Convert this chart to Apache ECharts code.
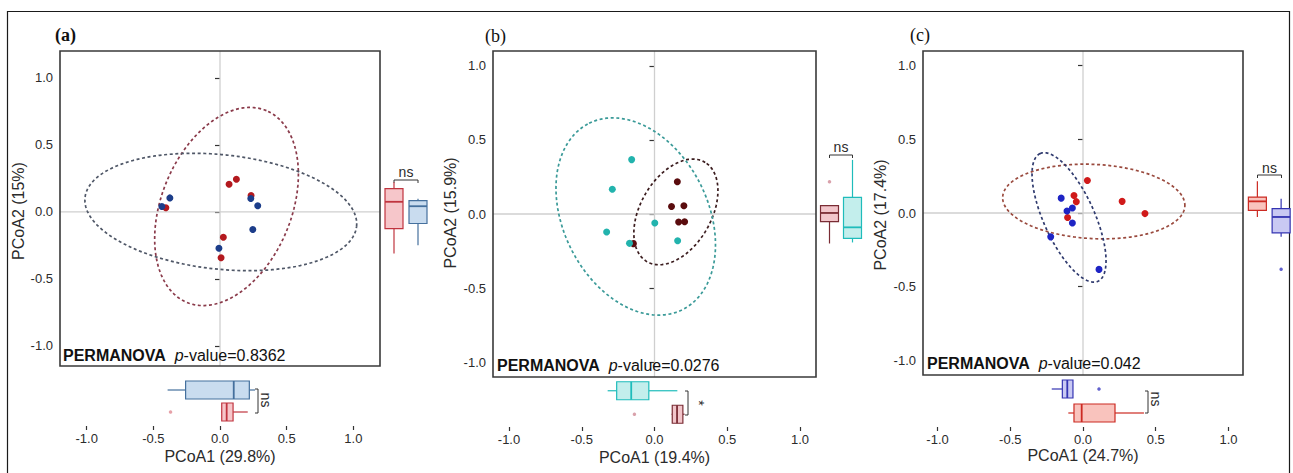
<!DOCTYPE html>
<html><head><meta charset="utf-8">
<script src="https://cdn.jsdelivr.net/npm/echarts@6/dist/echarts.min.js"></script>
<style>html,body{margin:0;padding:0;background:#fff}#c{width:1293px;height:473px}</style>
</head><body><div id="c"></div>
<script>
// ================= DATA =================
const panelLabels = ['(a)', '(b)', '(c)'];
const xTitles = ['PCoA1 (29.8%)', 'PCoA1 (19.4%)', 'PCoA1 (24.7%)'];
const yTitles = ['PCoA2 (15%)', 'PCoA2 (15.9%)', 'PCoA2 (17.4%)'];
const pValues = ['0.8362', '0.0276', '0.042'];
const tickValues = [-1, -0.5, 0, 0.5, 1];
const tickLabels = ['-1.0', '-0.5', '0.0', '0.5', '1.0'];
const sigRight = ['ns', 'ns', 'ns'];
const sigBottom = ['ns', '*', 'ns'];
const groups = ['G1', 'G2'];

// panel (a): points [PCoA1, PCoA2]
const aPts1 = [[0.068, 0.206], [0.123, 0.243], [0.233, 0.122], [-0.406, 0.030], [0.025, -0.190], [0.008, -0.343]];
const aPts2 = [[-0.376, 0.104], [-0.436, 0.040], [0.231, 0.099], [0.283, 0.045], [0.246, -0.132], [-0.008, -0.272]];
// ellipses: [centerX, centerY, semiMajor, semiMinor, angleDeg]
const aEll1 = [0.049, 0.040, 0.775, 0.486, 67.3];
const aEll2 = [0.006, -0.001, 1.024, 0.427, -6.0];
// box stats: [low whisker, Q1, median, Q3, high whisker]
const aBoxY1 = [-0.310, -0.125, 0.075, 0.174, 0.220];
const aBoxY2 = [-0.250, -0.087, 0.042, 0.084, 0.097];
const aBoxX1 = [0.008, 0.013, 0.050, 0.098, 0.208];
const aBoxX2 = [-0.393, -0.258, 0.103, 0.220, 0.263];
const aOutY1 = [], aOutY2 = [], aOutX1 = [-0.371], aOutX2 = [];

// panel (b)
const bPts1 = [[0.157, 0.218], [0.117, 0.051], [0.202, 0.056], [0.166, -0.054], [0.207, -0.052], [-0.145, -0.200]];
const bPts2 = [[-0.157, 0.367], [-0.290, 0.167], [0.002, -0.061], [-0.329, -0.122], [-0.172, -0.198], [0.159, -0.180]];
const bEll1 = [0.147, 0.014, 0.390, 0.242, 58.9];
const bEll2 = [-0.129, -0.017, 0.706, 0.495, 117.9];
const bBoxY1 = [-0.199, -0.052, 0.007, 0.056, 0.060];
const bBoxY2 = [-0.192, -0.165, -0.090, 0.112, 0.365];
const bBoxX1 = [0.117, 0.122, 0.155, 0.195, 0.207];
const bBoxX2 = [-0.322, -0.260, -0.160, -0.039, 0.157];
const bOutY1 = [0.218], bOutY2 = [], bOutX1 = [-0.138], bOutX2 = [];

// panel (c)
const cPts1 = [[0.030, 0.221], [-0.062, 0.119], [-0.046, 0.077], [-0.106, -0.031], [0.269, 0.079], [0.426, -0.004]];
const cPts2 = [[-0.150, 0.101], [-0.073, 0.034], [-0.110, 0.013], [-0.073, -0.068], [-0.222, -0.162], [0.110, -0.383]];
const cEll1 = [0.074, 0.078, 0.627, 0.252, -2.8];
const cEll2 = [-0.096, -0.030, 0.477, 0.174, 114.7];
const cBoxY1 = [-0.027, 0.018, 0.079, 0.108, 0.216];
const cBoxY2 = [-0.162, -0.135, -0.027, 0.030, 0.097];
const cBoxX1 = [-0.101, -0.062, -0.009, 0.220, 0.419];
const cBoxX2 = [-0.215, -0.142, -0.108, -0.069, -0.069];
const cOutY1 = [], cOutY2 = [-0.382], cOutX1 = [], cOutX2 = [0.110];

// ================= STYLE / LAYOUT =================
const FONT = "'Liberation Sans', Arial, Helvetica, sans-serif";
const SERIF = "'Liberation Serif', 'Times New Roman', serif";
const TXT = '#2b2b2b';

const panels = [
  { pts: [aPts1, aPts2], ell: [aEll1, aEll2], boxY: [aBoxY1, aBoxY2], boxX: [aBoxX1, aBoxX2],
    outY: [aOutY1, aOutY2], outX: [aOutX1, aOutX2],
    col: { pt: ['#b3191e', '#1c3d8a'], ell: ['#8a3a4a', '#4f5767'], fill: ['#f6c6ca', '#c9dcef'],
           stroke: ['#c0343f', '#45709d'], out: ['#e08a92', '#6f8fbf'] },
    L: { main: { left: 60, top: 51, width: 320, height: 315 }, xr: [-1.2, 1.2], yr: [-1.15, 1.2],
         right: { left: 382, width: 48 }, bottom: { top: 379, height: 44 }, xOff: 3,
         letter: { x: 55, y: 35, bold: true }, yTitle: { x: 18, y: 211 }, xTitleY: 456,
         perm: { x: 63, y: 355 }, brR: { y: 180, ty: 172 }, brB: { x: 258, y1: 389, y2: 413, tx: 266, ty: 400 } } },
  { pts: [bPts1, bPts2], ell: [bEll1, bEll2], boxY: [bBoxY1, bBoxY2], boxX: [bBoxX1, bBoxX2],
    outY: [bOutY1, bOutY2], outX: [bOutX1, bOutX2],
    col: { pt: ['#5a0c0e', '#22b3ad'], ell: ['#3b1c1e', '#3a9a98'], fill: ['#f2c6cb', '#c3eeec'],
           stroke: ['#7a2c34', '#1fbcbb'], out: ['#d08a96', '#40c0c0'] },
    L: { main: { left: 493, top: 51, width: 323, height: 326 }, xr: [-1.11, 1.11], yr: [-1.1, 1.1],
         right: { left: 818, width: 46 }, bottom: { top: 379, height: 47 }, xOff: 1,
         letter: { x: 485, y: 35.5, bold: false }, yTitle: { x: 450, y: 213 }, xTitleY: 457.5,
         perm: { x: 497, y: 365 }, brR: { y: 155, ty: 147 }, brB: { x: 688, y1: 391, y2: 415, tx: 699, ty: 403 } } },
  { pts: [cPts1, cPts2], ell: [cEll1, cEll2], boxY: [cBoxY1, cBoxY2], boxX: [cBoxX1, cBoxX2],
    outY: [cOutY1, cOutY2], outX: [cOutX1, cOutX2],
    col: { pt: ['#d01a1a', '#1e24c4'], ell: ['#9a4a3e', '#2f3a6e'], fill: ['#f9c3bd', '#c9c9f3'],
           stroke: ['#cc2a22', '#3434b2'], out: ['#e07a70', '#3a3ac0'] },
    L: { main: { left: 923, top: 51, width: 320, height: 324 }, xr: [-1.1, 1.1], yr: [-1.1, 1.1],
         right: { left: 1245.5, width: 48 }, bottom: { top: 377, height: 48 }, xOff: 2,
         letter: { x: 910, y: 35, bold: false }, yTitle: { x: 880, y: 215 }, xTitleY: 455.5,
         perm: { x: 927, y: 363.5 }, brR: { y: 175, ty: 168 }, brB: { x: 1148, y1: 391, y2: 413, tx: 1156, ty: 399 } } }
];

const BOXW = 18;

function tickLabelFmt(v) {
  const i = tickValues.findIndex(t => Math.abs(t - v) < 1e-9);
  return i >= 0 ? tickLabels[i] : '';
}

function zeroLineRender(xr, yr) {
  return function (params, api) {
    const a = api.coord([xr[0], 0]), b = api.coord([xr[1], 0]);
    const c = api.coord([0, yr[0]]), d = api.coord([0, yr[1]]);
    const st = { stroke: '#cfcfcf', lineWidth: 1.3 };
    return { type: 'group', children: [
      { type: 'line', shape: { x1: a[0], y1: a[1], x2: b[0], y2: b[1] }, style: st },
      { type: 'line', shape: { x1: c[0], y1: c[1], x2: d[0], y2: d[1] }, style: st }
    ] };
  };
}

function ellipseRender(colors) {
  return function (params, api) {
    const cx = api.value(0), cy = api.value(1), a = api.value(2), b = api.value(3);
    const ang = api.value(4) * Math.PI / 180;
    const pts = [];
    const N = 160;
    for (let i = 0; i <= N; i++) {
      const t = i / N * 2 * Math.PI;
      const ex = a * Math.cos(t), ey = b * Math.sin(t);
      pts.push(api.coord([cx + ex * Math.cos(ang) - ey * Math.sin(ang),
                          cy + ex * Math.sin(ang) + ey * Math.cos(ang)]));
    }
    return { type: 'polyline', shape: { points: pts },
             style: { stroke: colors[params.dataIndex], fill: null, lineWidth: 1.7, lineDash: [3, 2.6] } };
  };
}

function boxRender(col, horizontal) {
  return function (params, api) {
    const c = api.value(0);
    const v = [1, 2, 3, 4, 5].map(k => api.value(k));
    const P = v.map(val => horizontal ? api.coord([val, c]) : api.coord([c, val]));
    const stroke = col.stroke[params.dataIndex], fill = col.fill[params.dataIndex];
    const w = BOXW / 2;
    const ls = { stroke: stroke, lineWidth: 1.2 };
    if (!horizontal) {
      const x = P[2][0];
      return { type: 'group', children: [
        { type: 'line', shape: { x1: x, y1: P[0][1], x2: x, y2: P[1][1] }, style: ls },
        { type: 'line', shape: { x1: x, y1: P[3][1], x2: x, y2: P[4][1] }, style: ls },
        { type: 'rect', shape: { x: x - w, y: P[3][1], width: 2 * w, height: P[1][1] - P[3][1] },
          style: { fill: fill, stroke: stroke, lineWidth: 1.2 } },
        { type: 'line', shape: { x1: x - w, y1: P[2][1], x2: x + w, y2: P[2][1] }, style: { stroke: stroke, lineWidth: 1.8 } }
      ] };
    } else {
      const y = P[2][1];
      return { type: 'group', children: [
        { type: 'line', shape: { x1: P[0][0], y1: y, x2: P[1][0], y2: y }, style: ls },
        { type: 'line', shape: { x1: P[3][0], y1: y, x2: P[4][0], y2: y }, style: ls },
        { type: 'rect', shape: { x: P[1][0], y: y - w, width: P[3][0] - P[1][0], height: 2 * w },
          style: { fill: fill, stroke: stroke, lineWidth: 1.2 } },
        { type: 'line', shape: { x1: P[2][0], y1: y - w, x2: P[2][0], y2: y + w }, style: { stroke: stroke, lineWidth: 1.8 } }
      ] };
    }
  };
}

const grid = [], xAxis = [], yAxis = [], series = [], graphic = [];

graphic.push({ type: 'rect', shape: { x: 7.5, y: 11.5, width: 1282, height: 480 },
  style: { fill: 'none', stroke: '#1a1a1a', lineWidth: 1.2 }, silent: true, z: 0 });

panels.forEach((p, i) => {
  const L = p.L;
  const gi = 3 * i;
  // main grid
  grid.push({ left: L.main.left, top: L.main.top, width: L.main.width, height: L.main.height,
              show: true, borderColor: '#3a3a3a', borderWidth: 1.6, backgroundColor: 'transparent', z: 5 });
  // right box grid
  grid.push({ left: L.right.left, top: L.main.top, width: L.right.width, height: L.main.height });
  // bottom box grid
  grid.push({ left: L.main.left, top: L.bottom.top, width: L.main.width, height: L.bottom.height });

  xAxis.push({ type: 'value', gridIndex: gi, min: L.xr[0], max: L.xr[1], show: false });
  yAxis.push({ type: 'value', gridIndex: gi, min: L.yr[0], max: L.yr[1],
    axisLine: { show: false }, splitLine: { show: false },
    axisTick: { show: true, length: 5, customValues: tickValues, lineStyle: { color: '#333', width: 1.2 } },
    axisLabel: { customValues: tickValues, formatter: tickLabelFmt, fontSize: 13, color: TXT, margin: 7, fontFamily: FONT } });

  xAxis.push({ type: 'category', gridIndex: gi + 1, data: groups, show: false });
  yAxis.push({ type: 'value', gridIndex: gi + 1, min: L.yr[0], max: L.yr[1], show: false });

  xAxis.push({ type: 'value', gridIndex: gi + 2, min: L.xr[0], max: L.xr[1], position: 'bottom', offset: L.xOff,
    axisLine: { show: false }, splitLine: { show: false },
    axisTick: { show: true, length: 4, customValues: tickValues, lineStyle: { color: '#333', width: 1.2 } },
    axisLabel: { customValues: tickValues, formatter: tickLabelFmt, fontSize: 13, color: TXT, margin: 6, fontFamily: FONT } });
  yAxis.push({ type: 'category', gridIndex: gi + 2, data: groups, show: false });

  // zero lines
  series.push({ type: 'custom', xAxisIndex: gi, yAxisIndex: gi, data: [[0, 0]], z: 1, silent: true,
                renderItem: zeroLineRender(L.xr, L.yr) });
  // ellipses
  series.push({ type: 'custom', xAxisIndex: gi, yAxisIndex: gi, data: p.ell, z: 2, silent: true, clip: false,
                renderItem: ellipseRender(p.col.ell) });
  // points
  p.pts.forEach((pts, g) => {
    series.push({ type: 'scatter', xAxisIndex: gi, yAxisIndex: gi, data: pts, symbolSize: 7, z: 3,
                  itemStyle: { color: p.col.pt[g], opacity: 1 }, silent: true });
  });
  // right boxes (vertical)
  series.push({ type: 'custom', xAxisIndex: gi + 1, yAxisIndex: gi + 1, z: 3, silent: true, clip: false,
                encode: { x: 0, y: [1, 2, 3, 4, 5] },
                data: p.boxY.map((s, g) => [g].concat(s)), renderItem: boxRender(p.col, false) });
  p.outY.forEach((o, g) => {
    if (o.length) series.push({ type: 'scatter', xAxisIndex: gi + 1, yAxisIndex: gi + 1, symbolSize: 3.5, z: 4, silent: true,
      data: o.map(v => [g, v]), itemStyle: { color: p.col.out[g] } });
  });
  // bottom boxes (horizontal)
  series.push({ type: 'custom', xAxisIndex: gi + 2, yAxisIndex: gi + 2, z: 3, silent: true, clip: false,
                encode: { x: [1, 2, 3, 4, 5], y: 0 },
                data: p.boxX.map((s, g) => [g].concat(s)), renderItem: boxRender(p.col, true) });
  p.outX.forEach((o, g) => {
    if (o.length) series.push({ type: 'scatter', xAxisIndex: gi + 2, yAxisIndex: gi + 2, symbolSize: 3.5, z: 4, silent: true,
      data: o.map(v => [v, g]), itemStyle: { color: p.col.out[g] } });
  });

  // texts
  graphic.push({ type: 'text', x: L.letter.x, y: L.letter.y, silent: true,
    style: { text: panelLabels[i], font: (L.letter.bold ? 'bold ' : '') + '18px ' + SERIF, fill: '#111',
             align: 'left', textAlign: 'left', verticalAlign: 'middle', textVerticalAlign: 'middle' } });
  graphic.push({ type: 'text', x: L.yTitle.x, y: L.yTitle.y, rotation: Math.PI / 2, silent: true,
    style: { text: yTitles[i], font: '16px ' + FONT, fill: TXT,
             align: 'center', textAlign: 'center', verticalAlign: 'middle', textVerticalAlign: 'middle' } });
  graphic.push({ type: 'text', x: L.main.left + L.main.width / 2, y: L.xTitleY, silent: true,
    style: { text: xTitles[i], font: '16px ' + FONT, fill: TXT,
             align: 'center', textAlign: 'center', verticalAlign: 'middle', textVerticalAlign: 'middle' } });
  graphic.push({ type: 'text', x: L.perm.x, y: L.perm.y, silent: true, z: 10,
    style: { text: '{b|PERMANOVA}  {i|p}-value=' + pValues[i], font: '16px ' + FONT, fill: '#111',
             align: 'left', textAlign: 'left', verticalAlign: 'middle', textVerticalAlign: 'middle',
             rich: { b: { fontWeight: 'bold', fontSize: 16, fontFamily: FONT, fill: '#111', color: '#111' },
                     i: { fontStyle: 'italic', fontSize: 16, fontFamily: FONT, fill: '#111', color: '#111' } } } });
  // right bracket
  const x1 = L.right.left + L.right.width / 4, x2 = L.right.left + 3 * L.right.width / 4;
  graphic.push({ type: 'polyline', silent: true,
    shape: { points: [[x1, L.brR.y + 3], [x1, L.brR.y], [x2, L.brR.y], [x2, L.brR.y + 3]] },
    style: { stroke: '#333', lineWidth: 1, fill: null } });
  graphic.push({ type: 'text', x: (x1 + x2) / 2, y: L.brR.ty, silent: true,
    style: { text: sigRight[i], font: '14px ' + FONT, fill: TXT,
             align: 'center', textAlign: 'center', verticalAlign: 'middle', textVerticalAlign: 'middle' } });
  // bottom bracket
  graphic.push({ type: 'polyline', silent: true,
    shape: { points: [[L.brB.x - 3, L.brB.y1], [L.brB.x, L.brB.y1], [L.brB.x, L.brB.y2], [L.brB.x - 3, L.brB.y2]] },
    style: { stroke: '#333', lineWidth: 1, fill: null } });
  graphic.push({ type: 'text', x: L.brB.tx, y: L.brB.ty, rotation: -Math.PI / 2, silent: true,
    style: { text: sigBottom[i], font: '14px ' + FONT, fill: TXT,
             align: 'center', textAlign: 'center', verticalAlign: 'middle', textVerticalAlign: 'middle' } });
});

const chart = echarts.init(document.getElementById('c'), null, { renderer: 'svg', width: 1293, height: 473 });
chart.setOption({
  animation: false,
  backgroundColor: '#ffffff',
  textStyle: { fontFamily: FONT },
  grid, xAxis, yAxis, series, graphic
});
</script>
</body></html>
